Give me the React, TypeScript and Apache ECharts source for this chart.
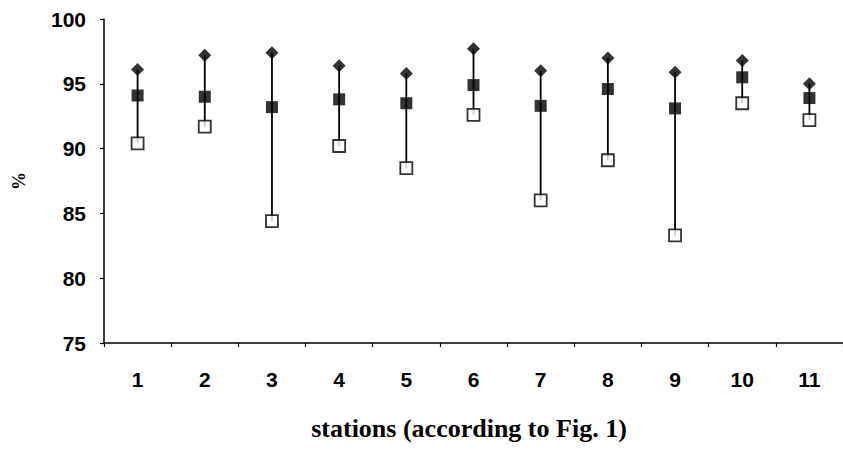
import React, { useEffect, useRef } from "react";
import * as echarts from "echarts";

const stations = ["1", "2", "3", "4", "5", "6", "7", "8", "9", "10", "11"];
const maxValues = [96.1, 97.2, 97.4, 96.4, 95.8, 97.7, 96.0, 97.0, 95.9, 96.8, 95.0];
const meanValues = [94.1, 94.0, 93.2, 93.8, 93.5, 94.9, 93.3, 94.6, 93.1, 95.5, 93.9];
const minValues = [90.4, 91.7, 84.4, 90.2, 88.5, 92.6, 86.0, 89.1, 83.3, 93.5, 92.2];
const yTicks = [75, 80, 85, 90, 95, 100];

export default function App() {
  const ref = useRef<HTMLDivElement>(null);
  useEffect(() => {
    if (!ref.current) return;
    const chart = echarts.init(ref.current, null, { renderer: "svg" });
    const labelFont = { fontFamily: "Liberation Sans", fontWeight: "bold" as const, fontSize: 21, color: "#000" };
    chart.setOption({
      animation: false,
      backgroundColor: "#fff",
      grid: { left: 104, top: 19, width: 747, height: 324, containLabel: false },
      xAxis: {
        type: "category",
        data: stations,
        boundaryGap: true,
        axisLine: { lineStyle: { color: "#000", width: 1.5 } },
        axisTick: { show: true, inside: false, length: 4, lineStyle: { color: "#000", width: 1.2 } },
        axisLabel: { ...labelFont, margin: 26 },
        splitLine: { show: false },
      },
      yAxis: {
        type: "value",
        min: yTicks[0],
        max: yTicks[yTicks.length - 1],
        interval: 5,
        name: "%",
        nameLocation: "middle",
        nameRotate: 90,
        nameGap: 76,
        nameTextStyle: { fontFamily: "Liberation Serif", fontSize: 18, color: "#000", fontWeight: "bold" },
        axisLine: { show: true, lineStyle: { color: "#000", width: 1.5 } },
        axisTick: { show: true, inside: false, length: 4, lineStyle: { color: "#000", width: 1.2 } },
        axisLabel: { ...labelFont, margin: 18 },
        splitLine: { show: false },
      },
      graphic: [
        {
          type: "text",
          x: 469,
          y: 428,
          style: {
            text: "stations (according to Fig. 1)",
            font: "bold 26px 'Liberation Serif'",
            fill: "#000",
            textAlign: "center",
            textVerticalAlign: "middle",
          },
        },
      ],
      series: [
        {
          type: "custom",
          data: stations.map((_, i) => [i, minValues[i], maxValues[i]]),
          renderItem: (params: any, api: any) => {
            const lo = api.coord([api.value(0), api.value(1)]);
            const hi = api.coord([api.value(0), api.value(2)]);
            return {
              type: "line",
              shape: { x1: lo[0], y1: lo[1], x2: hi[0], y2: hi[1] },
              style: { stroke: "#000", lineWidth: 1.8 },
            };
          },
          z: 1,
        },
        {
          type: "scatter",
          data: minValues,
          symbol: "rect",
          symbolSize: 12,
          itemStyle: { color: "#fff", borderColor: "#000", borderWidth: 1.8 },
          z: 2,
        },
        {
          type: "scatter",
          data: meanValues,
          symbol: "rect",
          symbolSize: 12,
          itemStyle: { color: "#000" },
          z: 3,
        },
        {
          type: "scatter",
          data: maxValues,
          symbol: "diamond",
          symbolSize: [13, 13],
          itemStyle: { color: "#000" },
          z: 4,
        },
      ],
    });
    return () => chart.dispose();
  }, []);
  return (
    <div
      ref={ref}
      style={{ position: "fixed", left: 0, top: 0, width: 843, height: 455, background: "#fff" }}
    />
  );
}
